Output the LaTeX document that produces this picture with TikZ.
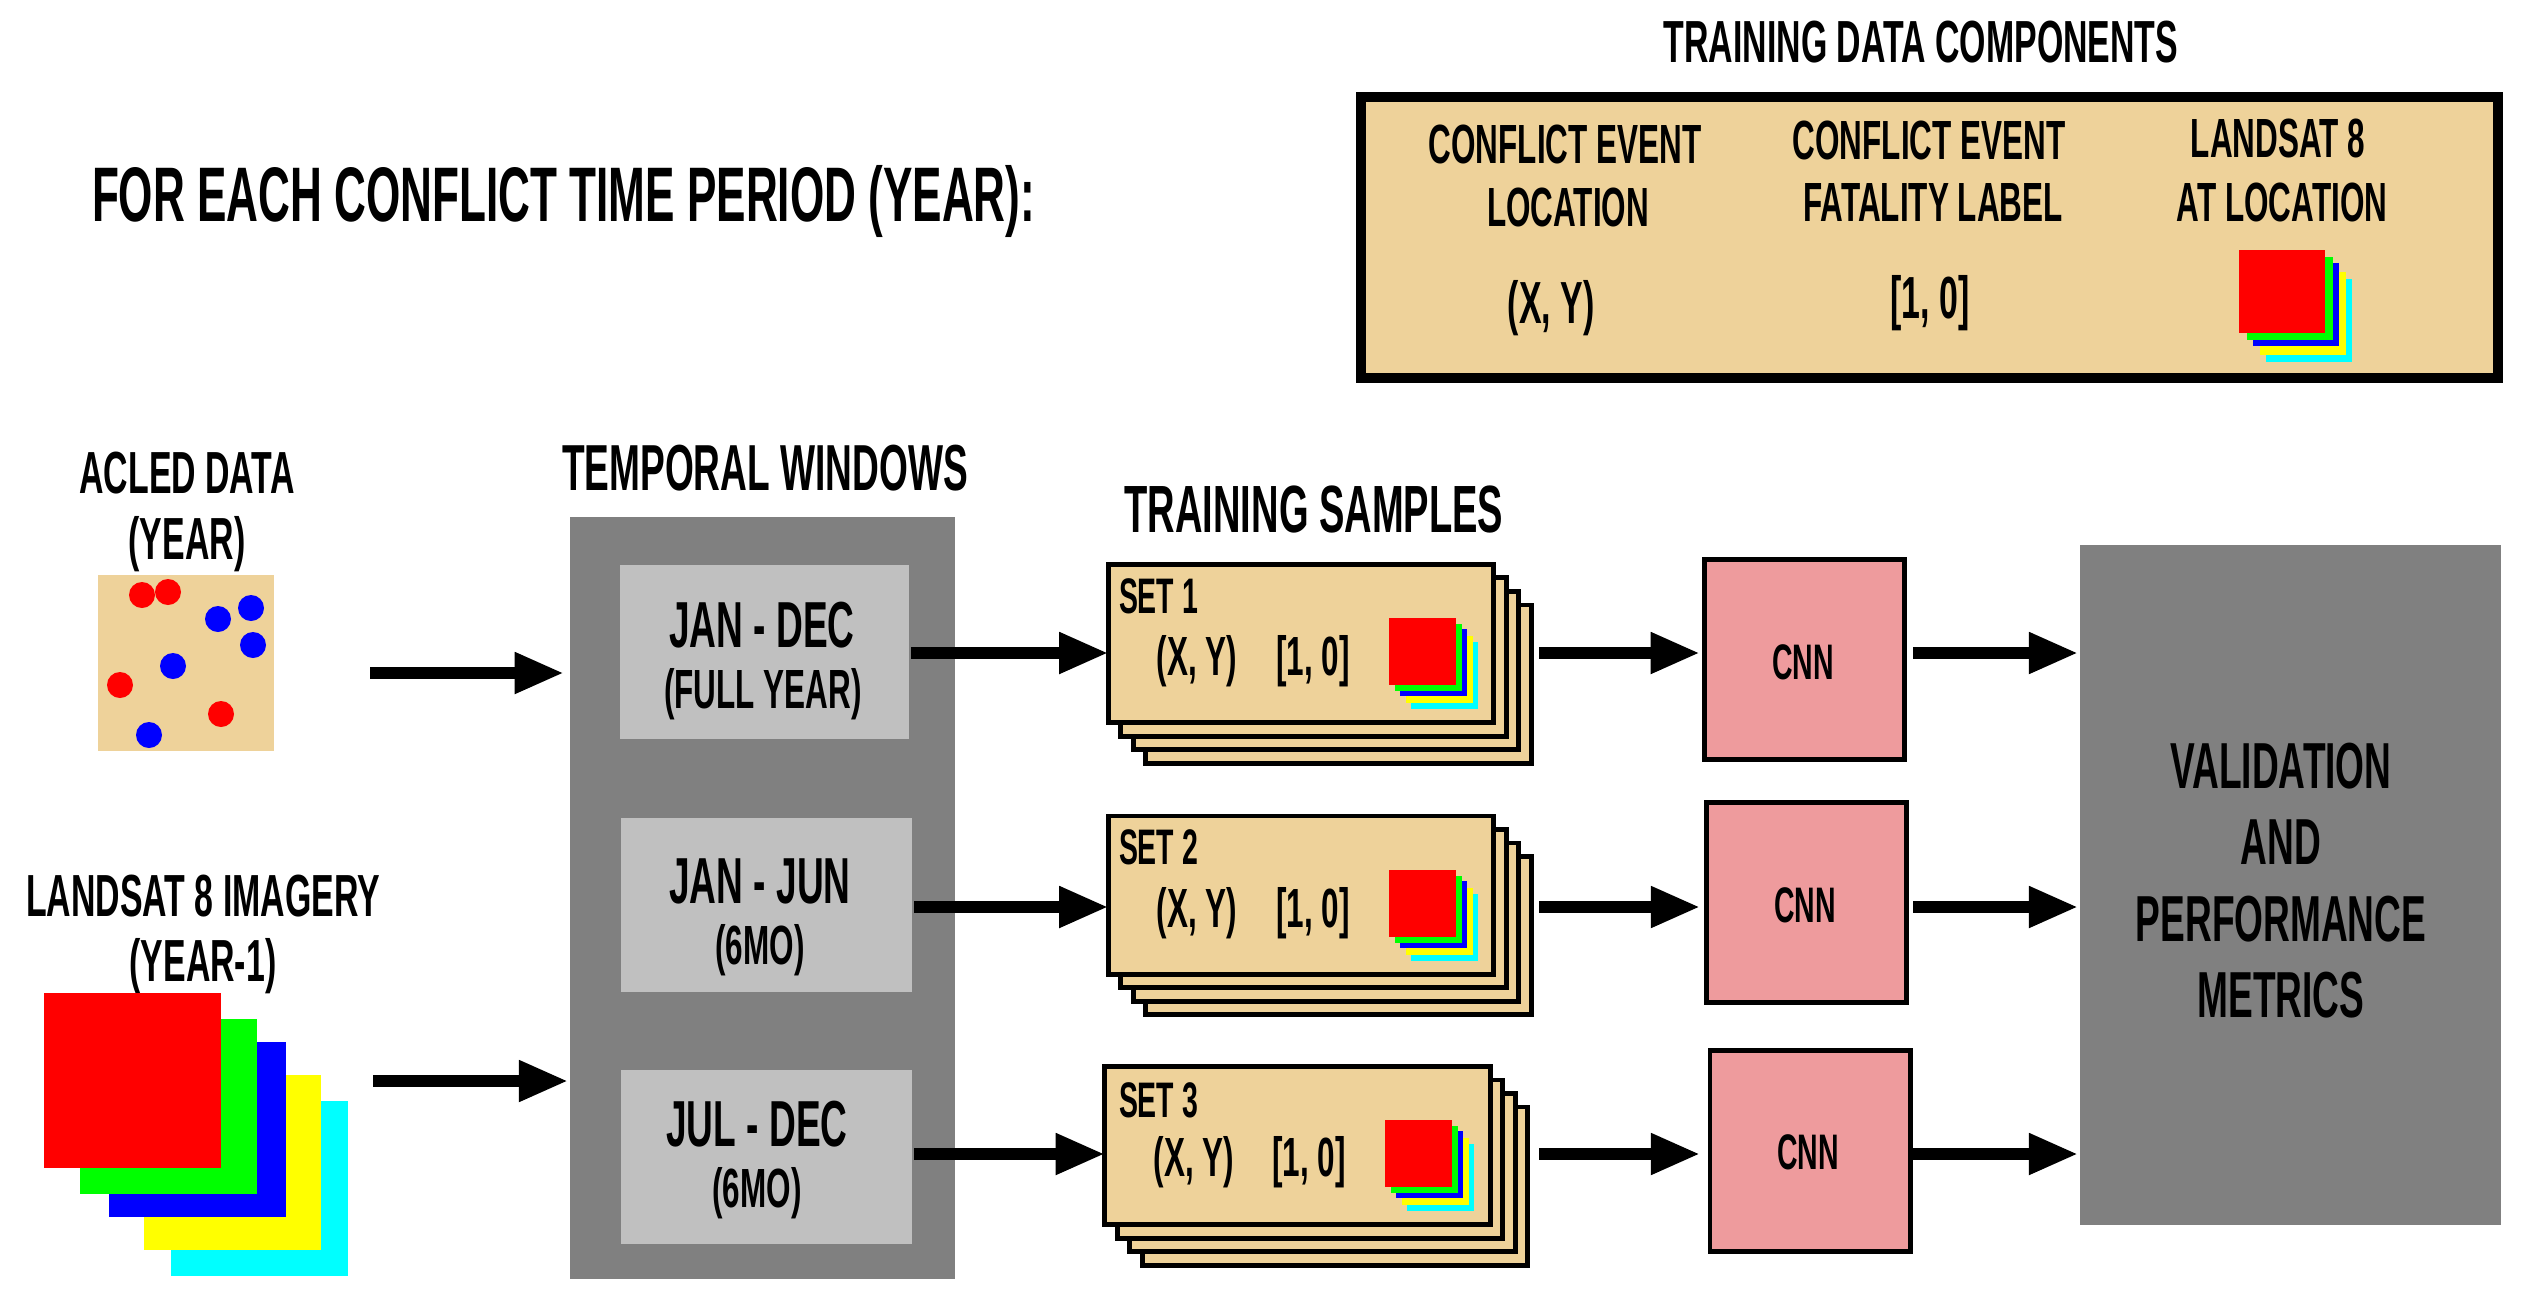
\documentclass[tikz,border=0pt]{standalone}
\usepackage{fontspec}
\setmainfont[FakeStretch=0.57]{Liberation Sans Bold}
\usetikzlibrary{positioning,calc,arrows.meta}
\definecolor{tanfill}{HTML}{EED29A}
\definecolor{cnnpink}{HTML}{EE9B9D}
\definecolor{darkgray}{HTML}{808080}
\definecolor{lightgray}{HTML}{C0C0C0}
\definecolor{bandr}{RGB}{255,0,0}
\definecolor{bandg}{RGB}{0,255,0}
\definecolor{bandb}{RGB}{0,0,255}
\definecolor{bandy}{RGB}{255,255,0}
\definecolor{bandc}{RGB}{0,255,255}
\tikzset{
  txt/.style={inner sep=0pt,outer sep=0pt,text=black,font=\fontsize{18.5pt}{20pt}\selectfont},
  txtmd/.style={txt,font=\fontsize{16.9pt}{18pt}\selectfont},
  txtsm/.style={txt,font=\fontsize{15.7pt}{17pt}\selectfont},
  txtxs/.style={txt,font=\fontsize{14.2pt}{16pt}\selectfont},
  win/.style={fill=lightgray,inner sep=0pt,outer sep=0pt,minimum height=1.74cm},
  card/.style={draw=black,line width=1.4pt,fill=tanfill,inner sep=0pt,outer sep=0pt,minimum width=3.85cm,minimum height=1.58cm},
  cnn/.style={draw=black,line width=1.4pt,fill=cnnpink,inner sep=0pt,outer sep=0pt,minimum width=2.0cm,minimum height=2.0cm},
  flow/.style={line width=3.3pt,-{Triangle[length=14pt,width=11pt]}}
}
\newcommand{\bandstack}[6]{% x y size-x size-y shift-x shift-y
  \foreach \col/\fx/\fy in {bandc/1/1,bandy/0.79/0.76,bandb/0.51/0.45,bandg/0.28/0.24,bandr/0/0}
    \fill[\col] ({#1+\fx*#5},{#2+\fy*#6}) rectangle ++(#3,#4);
}
\begin{document}
\begin{tikzpicture}[x=0.01cm,y=-0.01cm]
  \useasboundingbox (0,0) rectangle (2533,1303);
  % headings
  \node[txt,font=\fontsize{22pt}{24pt}\selectfont,anchor=west] (title) at (92,201) {FOR EACH CONFLICT TIME PERIOD (YEAR):};
  \node[txtmd] (compTitle) at (1921,42) {TRAINING DATA COMPONENTS};
  \node[txtmd] (acledA) at (187,473) {ACLED DATA};
  \node[txtmd] (acledB) at (187,544) {(YEAR)};
  \node[txtmd] (landA) at (203,896) {LANDSAT 8 IMAGERY};
  \node[txtmd] (landB) at (203,966) {(YEAR-1)};
  \node[txt] (tempTitle) at (765,468) {TEMPORAL WINDOWS};
  \node[txt,font=\fontsize{19pt}{21pt}\selectfont] (sampTitle) at (1314,509) {TRAINING SAMPLES};

  % components box
  \node[draw=black,line width=2.8pt,fill=tanfill,inner sep=0pt,outer sep=0pt,minimum width=11.37cm,minimum height=2.81cm] (comp) at (1929.5,237.5) {};
  \node[txtsm] (cA) at (1565,144) {CONFLICT EVENT};
  \node[txtsm] (cB) at (1568,207) {LOCATION};
  \node[txtmd] (cC) at (1551,308) {(X, Y)};
  \node[txtsm] (cD) at (1929,140) {CONFLICT EVENT};
  \node[txtsm] (cE) at (1933,203) {FATALITY LABEL};
  \node[txtmd] (cF) at (1930,303) {[1,\,0]};
  \node[txtsm] (cG) at (2278,138) {LANDSAT 8};
  \node[txtsm] (cH) at (2282,202) {AT LOCATION};
  \bandstack{2239}{250}{86}{83}{27}{29}

  % inputs
  \node[fill=tanfill,inner sep=0pt,outer sep=0pt,minimum width=1.76cm,minimum height=1.76cm] (acled) at (186,663) {};
  \foreach \x/\y in {142/595,168/592,120/685,221/714}
    \fill[bandr] (\x,\y) circle (13);
  \foreach \x/\y in {218/619,251/608,253/645,173/666,149/735}
    \fill[bandb] (\x,\y) circle (13);
  \bandstack{44}{993}{177}{175}{127}{108}

  % temporal windows
  \node[fill=darkgray,inner sep=0pt,outer sep=0pt,minimum width=3.85cm,minimum height=7.62cm] (temp) at (762.5,898) {};
  \node[win,minimum width=2.89cm] (win1) at (764.5,652) {};
  \node[win,minimum width=2.91cm] (win2) at (766.5,905) {};
  \node[win,minimum width=2.91cm] (win3) at (766.5,1157) {};
  \node[txt] (winA) at (762,625) {JAN - DEC};
  \node[txtsm] (winB) at (763,694) {(FULL YEAR)};
  \node[txt] (winC) at (760,881) {JAN - JUN};
  \node[txtsm] (winD) at (760,950) {(6MO)};
  \node[txt] (winE) at (757,1124) {JUL - DEC};
  \node[txtsm] (winF) at (757,1193) {(6MO)};

  % training sample sets
  \foreach \s/\x/\y in {1/1301/643.5,2/1301/895,3/1297.5/1145.5}{
    \node[card] (set\s c) at (\x+37.5,\y+40.5) {};
    \node[card] (set\s b) at (\x+25,\y+27) {};
    \node[card] (set\s a) at (\x+12.5,\y+13.5) {};
    \node[card] (set\s) at (\x,\y) {};
  }
  \node[txtxs,anchor=west] (lab1) at (1119,596) {SET 1};
  \node[txtxs,anchor=west] (lab2) at (1119,847) {SET 2};
  \node[txtxs,anchor=west] (lab3) at (1119,1100) {SET 3};
  \node[txtsm] (xyA) at (1197,661) {(X, Y)};
  \node[txtsm] (xyB) at (1197,913) {(X, Y)};
  \node[txtsm] (xyC) at (1194,1162) {(X, Y)};
  \node[txtsm] (lbA) at (1313,661) {[1,\,0]};
  \node[txtsm] (lbB) at (1313,913) {[1,\,0]};
  \node[txtsm] (lbC) at (1309,1162) {[1,\,0]};
  \bandstack{1389}{618}{67}{67}{22}{24}
  \bandstack{1389}{870}{67}{67}{22}{24}
  \bandstack{1385}{1120}{67}{67}{22}{24}

  % cnn and metrics
  \node[cnn] (cnn1) at (1804.5,659.5) {};
  \node[cnn] (cnn2) at (1806.5,902.5) {};
  \node[cnn] (cnn3) at (1810,1151) {};
  \node[txtxs] (cnnA) at (1803,662) {CNN};
  \node[txtxs] (cnnB) at (1805,905) {CNN};
  \node[txtxs] (cnnC) at (1808,1152) {CNN};
  \node[fill=darkgray,inner sep=0pt,outer sep=0pt,minimum width=4.21cm,minimum height=6.8cm] (valid) at (2290.5,885) {};
  \node[txt] (vA) at (2281,766) {VALIDATION};
  \node[txt] (vB) at (2281,842) {AND};
  \node[txt] (vC) at (2281,919) {PERFORMANCE};
  \node[txt] (vD) at (2281,995) {METRICS};

  % connectors
  \coordinate (acledOut) at (370,673);
  \coordinate (landOut) at (373,1081);
  \coordinate (row1) at (0,653);
  \coordinate (row2) at (0,907);
  \coordinate (row3) at (0,1154);
  \draw[flow,shorten >=1.7pt] (acledOut) -- (temp.west |- acledOut);
  \draw[flow,shorten >=0.5pt] (landOut) -- (temp.west |- landOut);
  \foreach \r/\ga/\gb/\gc/\gd in {1/2.3/1.3/2.4/0.5,2/2.3/1.8/1.9/0.5,3/3.3/2.8/0/0.5}{
    \draw[flow] (win\r.east |- row\r) ++(2,0) -- (set\r.west |- row\r);
    \draw[flow,shorten <=\ga pt,shorten >=\gb pt] (set\r c.east |- row\r) -- (cnn\r.west |- row\r);
    \draw[flow,shorten <=\gc pt,shorten >=\gd pt] (cnn\r.east |- row\r) -- (valid.west |- row\r);
  }
\end{tikzpicture}
\end{document}
